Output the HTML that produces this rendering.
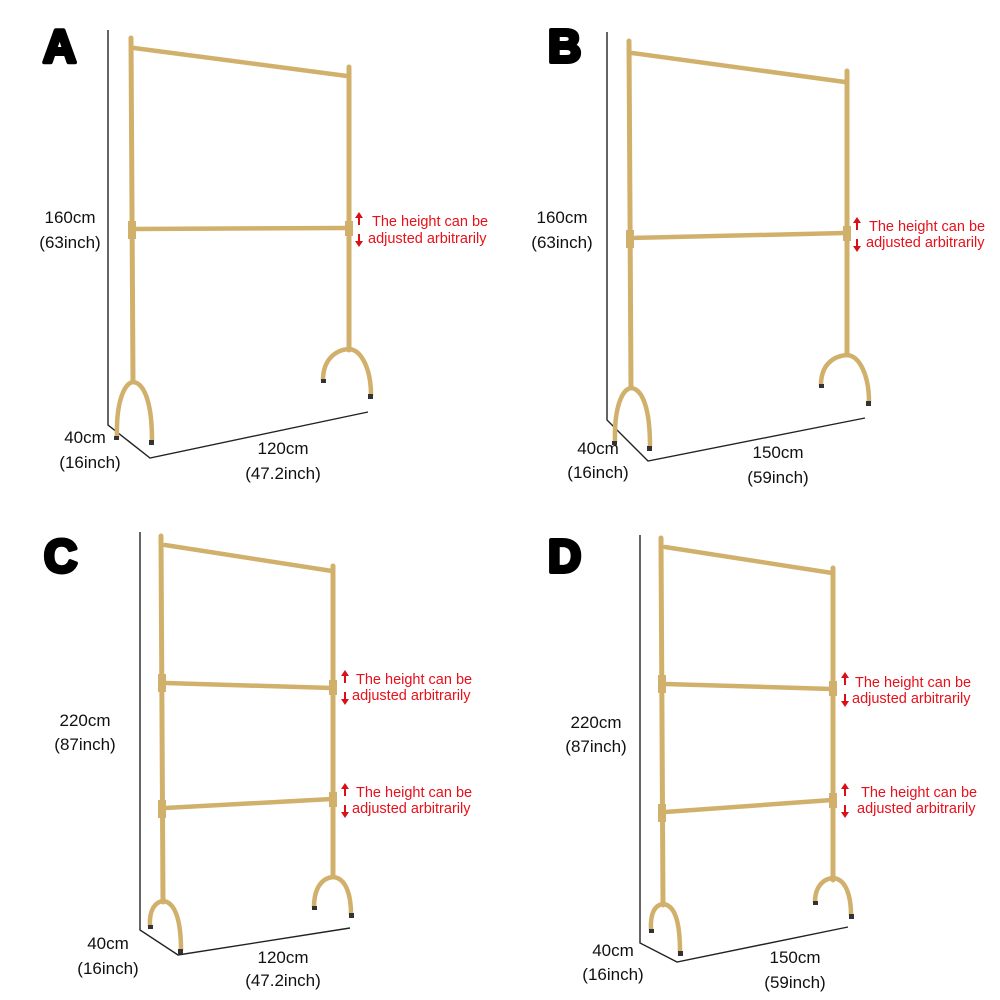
<!DOCTYPE html>
<html><head><meta charset="utf-8"><style>
html,body{margin:0;padding:0;background:#fff}
svg{display:block}
.l{font-family:"Liberation Sans",sans-serif;font-size:17px;fill:#111;text-anchor:middle}
.r{font-family:"Liberation Sans",sans-serif;font-size:14.5px;fill:#e8101a}
.big{font-family:"Liberation Sans",sans-serif;font-size:46px;font-weight:bold;fill:#000;stroke:#000;stroke-width:4;stroke-linejoin:round}
.g{stroke:#d1b06c;fill:none;stroke-linecap:round}
.d{stroke:#222;stroke-width:1.4;fill:none}
.ar{fill:#d8101a}
</style></head><body>
<svg width="1000" height="1000" viewBox="0 0 1000 1000">
<text class="big" x="43" y="62">A</text>
<text class="big" x="548" y="62">B</text>
<text class="big" x="44" y="572">C</text>
<text class="big" x="548" y="572">D</text>

<!-- PANEL A -->
<polyline class="d" points="108,30 108,425 150,458 368,412"/>
<line class="g" stroke-width="5" x1="131" y1="38" x2="133" y2="382"/>
<line class="g" stroke-width="5" x1="349" y1="67" x2="349" y2="350"/>
<line class="g" stroke-width="4.5" x1="134" y1="48" x2="347" y2="76"/>
<line class="g" stroke-width="4.5" x1="134" y1="229" x2="347" y2="228"/>
<rect x="128" y="221" width="8" height="18" fill="#d1b06c"/>
<rect x="345" y="221" width="8" height="15" fill="#d1b06c"/>
<path class="g" stroke-width="4.5" d="M117,437 C116,400 125,383 133,382 C145,383 152,405 152,440"/>
<path class="g" stroke-width="4.5" d="M323,380 C323,360 335,350 349,349 C362,350 371,370 371,395"/>
<rect x="114" y="436" width="5" height="4" fill="#333"/><rect x="149" y="440" width="5" height="5" fill="#333"/>
<rect x="321" y="379" width="5" height="4" fill="#333"/><rect x="368" y="394" width="5" height="5" fill="#333"/>
<text class="l" x="70" y="223">160cm</text><text class="l" x="70" y="248">(63inch)</text>
<text class="l" x="85" y="443">40cm</text><text class="l" x="90" y="468">(16inch)</text>
<text class="l" x="283" y="454">120cm</text><text class="l" x="283" y="479">(47.2inch)</text>
<path class="ar" d="M359,212 l-4,6 h3 v7 h2 v-7 h3 z M359,247 l-4,-6 h3 v-7 h2 v7 h3 z"/>
<text class="r" x="372" y="226">The height can be</text><text class="r" x="368" y="243">adjusted arbitrarily</text>

<!-- PANEL B -->
<polyline class="d" points="607,32 607,420 648,461 865,418"/>
<line class="g" stroke-width="5" x1="629" y1="41" x2="631" y2="388"/>
<line class="g" stroke-width="5" x1="847" y1="71" x2="847" y2="355"/>
<line class="g" stroke-width="4.5" x1="632" y1="53" x2="845" y2="82"/>
<line class="g" stroke-width="4.5" x1="632" y1="238" x2="845" y2="233"/>
<rect x="626" y="230" width="8" height="18" fill="#d1b06c"/>
<rect x="843" y="226" width="8" height="15" fill="#d1b06c"/>
<path class="g" stroke-width="4.5" d="M615,442 C614,405 623,389 631,388 C643,389 650,410 650,446"/>
<path class="g" stroke-width="4.5" d="M821,385 C821,365 833,356 847,355 C860,356 869,376 869,402"/>
<rect x="612" y="441" width="5" height="4" fill="#333"/><rect x="647" y="446" width="5" height="5" fill="#333"/>
<rect x="819" y="384" width="5" height="4" fill="#333"/><rect x="866" y="401" width="5" height="5" fill="#333"/>
<text class="l" x="562" y="223">160cm</text><text class="l" x="562" y="248">(63inch)</text>
<text class="l" x="598" y="454">40cm</text><text class="l" x="598" y="478">(16inch)</text>
<text class="l" x="778" y="458">150cm</text><text class="l" x="778" y="483">(59inch)</text>
<path class="ar" d="M857,217 l-4,6 h3 v7 h2 v-7 h3 z M857,252 l-4,-6 h3 v-7 h2 v7 h3 z"/>
<text class="r" x="869" y="231">The height can be</text><text class="r" x="866" y="247">adjusted arbitrarily</text>

<!-- PANEL C -->
<polyline class="d" points="140,532 140,930 178,955 350,928"/>
<line class="g" stroke-width="5" x1="161" y1="536" x2="163" y2="902"/>
<line class="g" stroke-width="5" x1="333" y1="566" x2="333" y2="877"/>
<line class="g" stroke-width="4.5" x1="165" y1="545" x2="332" y2="571"/>
<line class="g" stroke-width="4.5" x1="165" y1="683" x2="332" y2="688"/>
<line class="g" stroke-width="4.5" x1="165" y1="808" x2="332" y2="799"/>
<rect x="158" y="674" width="8" height="18" fill="#d1b06c"/><rect x="329" y="680" width="8" height="15" fill="#d1b06c"/>
<rect x="158" y="800" width="8" height="18" fill="#d1b06c"/><rect x="329" y="792" width="8" height="15" fill="#d1b06c"/>
<path class="g" stroke-width="4.5" d="M150,926 C149,910 155,902 163,901 C175,902 181,920 181,950"/>
<path class="g" stroke-width="4.5" d="M314,907 C314,888 322,878 333,877 C346,878 351,895 351,914"/>
<rect x="148" y="925" width="5" height="4" fill="#333"/><rect x="178" y="949" width="5" height="5" fill="#333"/>
<rect x="312" y="906" width="5" height="4" fill="#333"/><rect x="349" y="913" width="5" height="5" fill="#333"/>
<text class="l" x="85" y="726">220cm</text><text class="l" x="85" y="750">(87inch)</text>
<text class="l" x="108" y="949">40cm</text><text class="l" x="108" y="974">(16inch)</text>
<text class="l" x="283" y="963">120cm</text><text class="l" x="283" y="986">(47.2inch)</text>
<path class="ar" d="M345,670 l-4,6 h3 v7 h2 v-7 h3 z M345,705 l-4,-6 h3 v-7 h2 v7 h3 z"/>
<text class="r" x="356" y="684">The height can be</text><text class="r" x="352" y="700">adjusted arbitrarily</text>
<path class="ar" d="M345,783 l-4,6 h3 v7 h2 v-7 h3 z M345,818 l-4,-6 h3 v-7 h2 v7 h3 z"/>
<text class="r" x="356" y="797">The height can be</text><text class="r" x="352" y="813">adjusted arbitrarily</text>

<!-- PANEL D -->
<polyline class="d" points="640,535 640,943 677,962 848,927"/>
<line class="g" stroke-width="5" x1="661" y1="538" x2="663" y2="905"/>
<line class="g" stroke-width="5" x1="833" y1="568" x2="833" y2="880"/>
<line class="g" stroke-width="4.5" x1="665" y1="547" x2="832" y2="573"/>
<line class="g" stroke-width="4.5" x1="665" y1="684" x2="832" y2="689"/>
<line class="g" stroke-width="4.5" x1="665" y1="812" x2="832" y2="800"/>
<rect x="658" y="675" width="8" height="18" fill="#d1b06c"/><rect x="829" y="681" width="8" height="15" fill="#d1b06c"/>
<rect x="658" y="804" width="8" height="18" fill="#d1b06c"/><rect x="829" y="793" width="8" height="15" fill="#d1b06c"/>
<path class="g" stroke-width="4.5" d="M651,930 C650,913 655,905 663,904 C675,905 680,922 680,952"/>
<path class="g" stroke-width="4.5" d="M815,902 C815,888 822,879 833,878 C846,879 851,896 851,915"/>
<rect x="649" y="929" width="5" height="4" fill="#333"/><rect x="678" y="951" width="5" height="5" fill="#333"/>
<rect x="813" y="901" width="5" height="4" fill="#333"/><rect x="849" y="914" width="5" height="5" fill="#333"/>
<text class="l" x="596" y="728">220cm</text><text class="l" x="596" y="752">(87inch)</text>
<text class="l" x="613" y="956">40cm</text><text class="l" x="613" y="980">(16inch)</text>
<text class="l" x="795" y="963">150cm</text><text class="l" x="795" y="988">(59inch)</text>
<path class="ar" d="M845,672 l-4,6 h3 v7 h2 v-7 h3 z M845,707 l-4,-6 h3 v-7 h2 v7 h3 z"/>
<text class="r" x="855" y="687">The height can be</text><text class="r" x="852" y="703">adjusted arbitrarily</text>
<path class="ar" d="M845,783 l-4,6 h3 v7 h2 v-7 h3 z M845,818 l-4,-6 h3 v-7 h2 v7 h3 z"/>
<text class="r" x="861" y="797">The height can be</text><text class="r" x="857" y="813">adjusted arbitrarily</text>
</svg>
</body></html>
